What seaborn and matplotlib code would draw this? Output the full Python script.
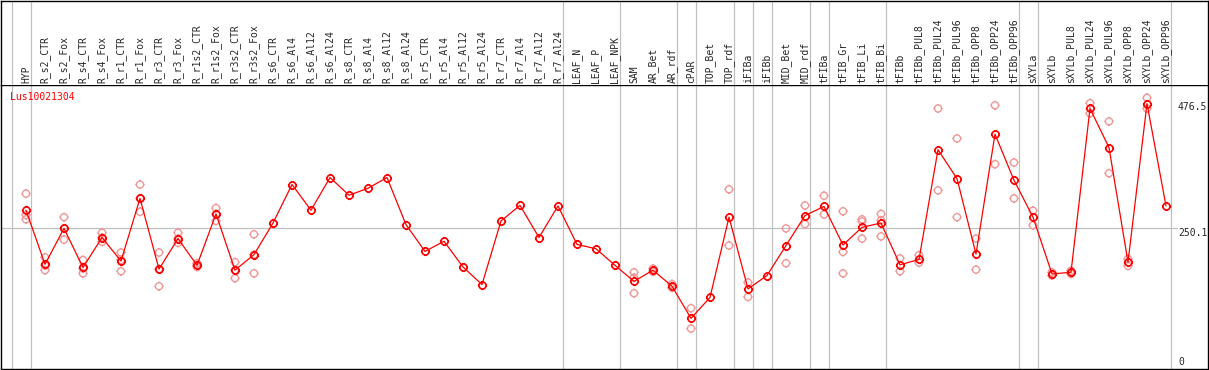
import numpy as np
import pandas as pd
import matplotlib
matplotlib.use('Agg')
import matplotlib.pyplot as plt
from matplotlib.path import Path
import seaborn as sns

# expression profile of one gene across tissues / treatments
GENE = 'Lus10021304'

CATEGORIES = [
    'HYP', 'R_s2_CTR', 'R_s2_Fox', 'R_s4_CTR', 'R_s4_Fox', 'R_r1_CTR', 'R_r1_Fox',
    'R_r3_CTR', 'R_r3_Fox', 'R_r1s2_CTR', 'R_r1s2_Fox', 'R_r3s2_CTR', 'R_r3s2_Fox',
    'R_s6_CTR', 'R_s6_Al4', 'R_s6_Al12', 'R_s6_Al24', 'R_s8_CTR', 'R_s8_Al4',
    'R_s8_Al12', 'R_s8_Al24', 'R_r5_CTR', 'R_r5_Al4', 'R_r5_Al12', 'R_r5_Al24',
    'R_r7_CTR', 'R_r7_Al4', 'R_r7_Al12', 'R_r7_Al24', 'LEAF_N', 'LEAF_P', 'LEAF_NPK',
    'SAM', 'AR_Bet', 'AR_rdf', 'cPAR', 'TOP_Bet', 'TOP_rdf', 'iFIBa', 'iFIBb',
    'MID_Bet', 'MID_rdf', 'tFIBa', 'tFIB_Gr', 'tFIB_Li', 'tFIB_Bi', 'tFIBb',
    'tFIBb_PUL8', 'tFIBb_PUL24', 'tFIBb_PUL96', 'tFIBb_OPP8', 'tFIBb_OPP24',
    'tFIBb_OPP96', 'sXYLa', 'sXYLb', 'sXYLb_PUL8', 'sXYLb_PUL24', 'sXYLb_PUL96',
    'sXYLb_OPP8', 'sXYLb_OPP24', 'sXYLb_OPP96',
]

MEANS = [
    283, 182, 249, 176, 232, 188, 305, 173, 230, 180, 276, 171, 200,
    259, 331, 283, 344, 311, 324, 344, 256, 206, 225, 177, 144,
    263, 292, 232, 291, 219, 211, 180,
    150, 171, 141, 81, 120, 270, 136, 161, 217, 273, 290, 218, 251, 259,
    181, 191, 396, 342, 201, 425, 339,
    270, 164, 167, 473, 400, 186, 482, 291,
]

REPLICATES = [
    [314, 274, 266], [195, 180, 171], [270, 249, 228], [190, 174, 165],
    [241, 232, 224], [204, 190, 169], [331, 305, 280], [204, 173, 141],
    [241, 230, 222], [184, 180, 177], [287, 276, 263], [186, 171, 156],
    [238, 200, 165],
    [], [], [], [], [], [], [], [], [], [], [], [], [], [], [], [], [], [], [],
    [167, 157, 128], [174, 168], [145, 138], [100, 62], [], [322, 217],
    [148, 121], [], [249, 184], [292, 257], [310, 275], [281, 205, 165],
    [266, 262, 230], [276, 264, 234],
    [193, 169], [199, 185], [473, 320], [417, 270], [230, 172], [479, 369],
    [372, 305],
    [282, 255], [167, 161], [170, 164], [483, 464], [449, 352], [192, 179],
    [493, 473], [],
]

# index of the last sample in each tissue group (-1 = left edge)
GROUP_ENDS = [-1, 0, 28, 31, 34, 35, 37, 38, 39, 41, 42, 45, 52, 53, 60]
Y_LABELS = [0, 250.1, 476.5]

RED = '#ff0000'
PINK = '#f09898'
GRID = '#c0c0c0'
FONT = 'DejaVu Sans Mono'


def sight_marker():
    """circle with four little ticks, like the original pixel marker"""
    circle = Path.unit_circle()
    verts = list(circle.vertices)
    codes = list(circle.codes)
    for dx, dy in [(1, 0), (-1, 0), (0, 1), (0, -1)]:
        verts += [(dx * 1.0, dy * 1.0), (dx * 1.3, dy * 1.3)]
        codes += [Path.MOVETO, Path.LINETO]
    return Path(verts, codes)


def main():
    sns.set_style('white')
    plt.rcParams['font.family'] = [FONT, 'DejaVu Sans']

    pos = np.arange(len(CATEGORIES))
    df_mean = pd.DataFrame({'pos': pos, 'value': MEANS})
    rows = [(i, v) for i, reps in enumerate(REPLICATES) for v in reps]
    df_rep = pd.DataFrame(rows, columns=['pos', 'value'])

    W, H = 1209, 370
    fig = plt.figure(figsize=(W / 100, H / 100), dpi=100)
    ax = fig.add_axes([1 / W, 1 / H, 1207 / W, 284 / H])
    ax_lab = fig.add_axes([1 / W, 285 / H, 1207 / W, 84.5 / H])

    # pixel layout of the original: sample i sits at x = 26 + 19 i
    xlim = ((1 - 26) / 19, (1208 - 26) / 19)
    per_px = 1.868
    ylim = ((361.7 - 369) * per_px, (361.7 - 85) * per_px)
    for a in (ax, ax_lab):
        a.set_xlim(*xlim)
        a.set_xticks([])
        a.set_yticks([])
        for s in a.spines.values():
            s.set_color('black')
            s.set_linewidth(1.0)
        for g in GROUP_ENDS:
            a.axvline(g + 0.25, color=GRID, lw=0.9, zorder=0)
    ax.set_ylim(*ylim)
    ax_lab.set_ylim(0, 84.5)
    ax_lab.spines['bottom'].set_visible(False)

    ax.axhline(250.1, xmin=0, xmax=(1177 - 1) / 1207, color=GRID, lw=0.9, zorder=0)

    marker = sight_marker()
    sns.scatterplot(data=df_rep, x='pos', y='value', ax=ax, marker=marker, s=44,
                    color=PINK, facecolor='none', edgecolor=PINK, linewidth=1.0,
                    zorder=2, legend=False)
    sns.lineplot(data=df_mean, x='pos', y='value', ax=ax, color=RED, lw=0.9,
                 marker=marker, markersize=6.6, markerfacecolor='none',
                 markeredgecolor=RED, markeredgewidth=1.2,
                 estimator=None, errorbar=None, zorder=3, legend=False)
    ax.set_xlabel('')
    ax.set_ylabel('')
    ax.set_xlim(*xlim)
    ax.set_ylim(*ylim)

    # rotated sample names in the header strip
    for i, name in enumerate(CATEGORIES):
        ax_lab.text(i, 2, name, rotation=90, ha='center', va='bottom',
                    fontsize=7, family=FONT)

    x_lab = (1178 - 26) / 19
    for v in Y_LABELS:
        va = 'top' if v == 250.1 else 'center'
        y = v - 1 if v == 250.1 else v
        ax.text(x_lab, y, f'{v:g}', ha='left', va=va, fontsize=7, family=FONT,
                clip_on=True)

    ax.text((10 - 26) / 19, (361.7 - 97) * per_px, GENE, color=RED,
            ha='left', va='center', fontsize=7, family=FONT)

    fig.savefig('out.png', dpi=100)


if __name__ == '__main__':
    main()
